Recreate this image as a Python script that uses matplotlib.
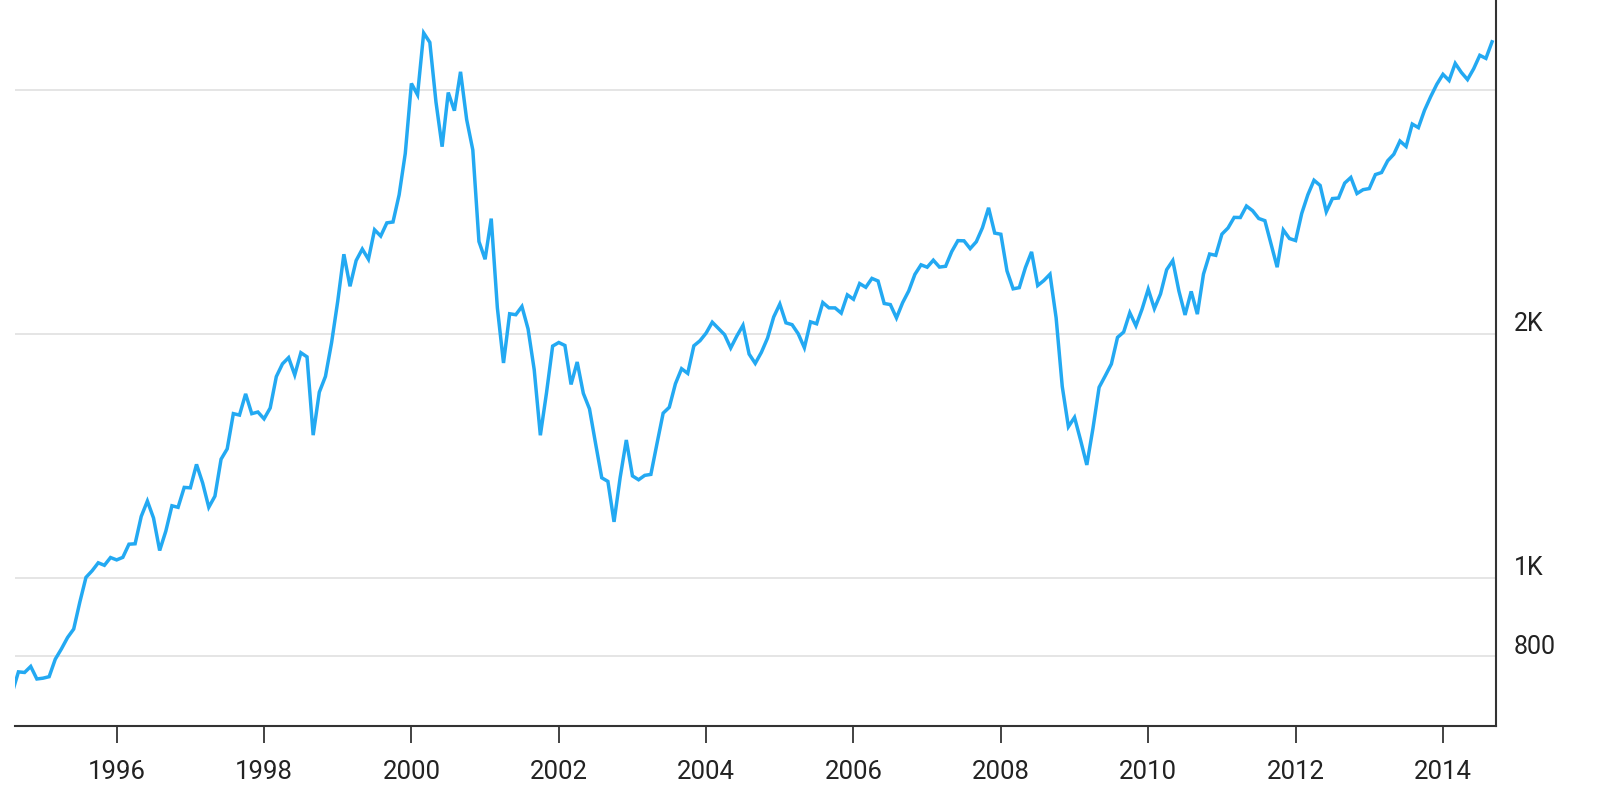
import numpy as np
import matplotlib.pyplot as plt
import matplotlib.transforms as mtransforms

plt.rcParams['font.family'] = ['Roboto', 'DejaVu Sans']

# monthly closes, Jul 1994 .. Aug 2014 (plotted at month end)
start_year = 1994
start_month = 7
closes = [
    722.2, 765.6, 764.3, 777.5, 750.3, 752.0,
    755.2, 793.7, 817.2, 844.0, 864.6, 933.5, 1001.2, 1020.1, 1043.5, 1036.1, 1059.2, 1052.1,
    1059.8, 1100.1, 1101.4, 1190.5, 1243.4, 1185.0, 1080.6, 1141.5, 1226.9, 1221.5, 1292.6, 1291.0,
    1379.9, 1309.0, 1221.7, 1260.8, 1400.3, 1442.1, 1593.8, 1587.3, 1685.7, 1593.6, 1601.0, 1570.4,
    1619.4, 1770.5, 1835.7, 1868.4, 1778.9, 1894.7, 1872.4, 1499.3, 1693.8, 1771.4, 1949.5, 2192.7,
    2505.9, 2288.0, 2461.4, 2542.9, 2470.5, 2686.1, 2638.5, 2739.4, 2746.2, 2966.4, 3336.2, 4069.3,
    3940.4, 4696.7, 4572.8, 3860.7, 3400.9, 3966.1, 3767.0, 4206.4, 3672.8, 3369.6, 2597.9, 2470.5,
    2772.7, 2151.8, 1840.3, 2116.2, 2110.5, 2160.5, 2027.1, 1805.4, 1498.8, 1690.2, 1930.6, 1950.4,
    1934.0, 1731.5, 1845.4, 1688.2, 1615.7, 1463.2, 1328.3, 1314.9, 1172.1, 1329.8, 1478.8, 1335.5,
    1320.9, 1337.5, 1341.2, 1464.3, 1595.9, 1622.8, 1735.0, 1810.5, 1786.9, 1932.2, 1960.3, 2003.4,
    2066.2, 2029.8, 1994.2, 1920.2, 1986.7, 2047.8, 1887.4, 1838.1, 1896.8, 1975.0, 2096.8, 2175.4,
    2062.4, 2051.7, 1999.2, 1921.7, 2068.2, 2057.0, 2184.8, 2152.1, 2151.7, 2120.3, 2232.8, 2205.3,
    2305.8, 2281.4, 2339.8, 2322.6, 2178.9, 2172.1, 2091.5, 2183.8, 2258.4, 2366.7, 2431.8, 2415.3,
    2463.9, 2416.2, 2421.6, 2525.1, 2604.5, 2603.2, 2546.3, 2596.4, 2701.5, 2859.1, 2661.0, 2652.3,
    2389.9, 2271.5, 2279.1, 2412.8, 2522.7, 2293.0, 2325.6, 2367.5, 2091.9, 1721.0, 1535.6, 1577.0,
    1476.4, 1377.8, 1528.6, 1717.3, 1774.3, 1835.0, 1979.0, 2009.1, 2122.4, 2045.1, 2144.6, 2269.2,
    2147.4, 2238.3, 2398.0, 2461.2, 2257.0, 2109.2, 2255.0, 2114.0, 2368.6, 2507.4, 2498.2, 2652.9,
    2700.1, 2782.3, 2781.1, 2873.5, 2835.3, 2773.5, 2756.4, 2579.5, 2415.4, 2684.4, 2620.3, 2605.2,
    2813.8, 2966.9, 3091.6, 3046.4, 2827.3, 2935.1, 2939.5, 3067.0, 3116.2, 2977.2, 3010.2, 3019.5,
    3142.1, 3160.2, 3267.5, 3328.8, 3455.9, 3403.3, 3626.4, 3589.9, 3771.5, 3919.7, 4059.9, 4176.6,
    4104.0, 4308.1, 4199.0, 4114.6, 4242.6, 4408.2, 4369.8, 4580.3,
]
year_ticks = list(range(1996, 2015, 2))
value_ticks = [800, 1000, 2000, 4000]
value_labels = ['800', '1K', '2K', '']

# x position: end of each month as a decimal year
dates = start_year + (start_month + np.arange(len(closes))) / 12.0

fig = plt.figure(figsize=(16, 8.125), dpi=100)
ax = fig.add_axes([15 / 1600, 1 - 726.5 / 812, (1496 - 15) / 1600, 726.5 / 812])

ax.plot(dates, closes, color='#23a9f2', lw=2.5, solid_joinstyle='miter', zorder=3)

ax.set_yscale('log')
ax.set_xlim(1994.62, 2014.72)
ax.set_ylim(655.7, 5165)

ax.set_yticks(value_ticks)
ax.set_yticklabels([])
ax.yaxis.set_minor_locator(plt.NullLocator())
ax.tick_params(axis='y', length=0)
ax.grid(axis='y', color='#e3e3e3', lw=1.3, zorder=1)

# right-side labels sit just above their grid lines
offset = mtransforms.ScaledTranslation(18 / 100, 10 / 100, fig.dpi_scale_trans)
trans = mtransforms.blended_transform_factory(ax.transAxes, ax.transData) + offset
for v, lab in zip(value_ticks, value_labels):
    ax.text(1.0, v, lab, transform=trans, ha='left', va='center',
            fontsize=18, color='#222222')

ax.set_xticks(year_ticks)
ax.set_xticklabels([str(y) for y in year_ticks])
ax.tick_params(axis='x', direction='out', length=12, width=1.2, pad=12,
               labelsize=18.5, colors='#222222')

for side in ['left', 'top']:
    ax.spines[side].set_visible(False)
ax.spines['bottom'].set_color('#333333')
ax.spines['right'].set_color('#333333')
ax.spines['bottom'].set_linewidth(1.5)
ax.spines['right'].set_linewidth(1.5)

fig.savefig('out.png', dpi=100)
plt.close(fig)
